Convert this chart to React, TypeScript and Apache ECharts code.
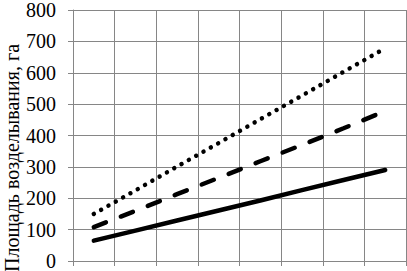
import React, { useEffect, useRef } from "react";
import * as echarts from "echarts";

const categories = ["1", "2", "3", "4", "5", "6", "7", "8"];
const solidValues = [65, 97, 129, 161, 193, 226, 258, 290];
const dashedValues = [108, 160, 213, 265, 318, 370, 423, 478];
const dottedValues = [150, 225, 301, 376, 452, 527, 603, 678];
const yAxisName = "Площадь возделывания, га";

export default function App() {
  const ref = useRef<HTMLDivElement>(null);
  useEffect(() => {
    if (!ref.current) return;
    const chart = echarts.init(ref.current, undefined, { renderer: "svg" });
    const font = "Times New Roman, Liberation Serif, DejaVu Serif, serif";
    chart.setOption({
      animation: false,
      backgroundColor: "#ffffff",
      grid: { left: 73, right: 1, top: 7, bottom: 8, containLabel: false },
      xAxis: {
        type: "category",
        data: categories,
        boundaryGap: true,
        axisLine: { show: true, lineStyle: { color: "#868686", width: 1 } },
        axisTick: { show: true, length: 5, alignWithLabel: false, lineStyle: { color: "#868686" } },
        axisLabel: { show: false },
        splitLine: { show: true, lineStyle: { color: "#868686", width: 1 } },
      },
      yAxis: {
        type: "value",
        min: 0,
        max: 800,
        interval: 100,
        axisLine: { show: true, lineStyle: { color: "#868686", width: 1 } },
        axisTick: { show: true, length: 5, lineStyle: { color: "#868686" } },
        axisLabel: { color: "#000", fontFamily: font, fontSize: 20, margin: 17 },
        splitLine: { show: true, lineStyle: { color: "#868686", width: 1 } },
      },
      graphic: [
        {
          type: "text",
          x: 12,
          y: 158,
          rotation: Math.PI / 2,
          style: {
            text: yAxisName,
            fill: "#000",
            fontFamily: font,
            fontSize: 20,
            align: "center",
            verticalAlign: "middle",
          },
        },
      ],
      series: [
        {
          type: "line",
          data: solidValues,
          symbol: "none",
          lineStyle: { color: "#000", width: 4.5, cap: "round" },
        },
        {
          type: "line",
          data: dashedValues,
          symbol: "none",
          lineStyle: { color: "#000", width: 4.5, type: [13, 16], cap: "round" },
        },
        {
          type: "line",
          data: dottedValues,
          symbol: "none",
          lineStyle: { color: "#000", width: 4.5, type: [0.01, 8.4], cap: "round" },
        },
      ],
    });
    return () => chart.dispose();
  }, []);
  return <div ref={ref} style={{ width: 407, height: 271, position: "absolute", left: 0, top: 0 }} />;
}
